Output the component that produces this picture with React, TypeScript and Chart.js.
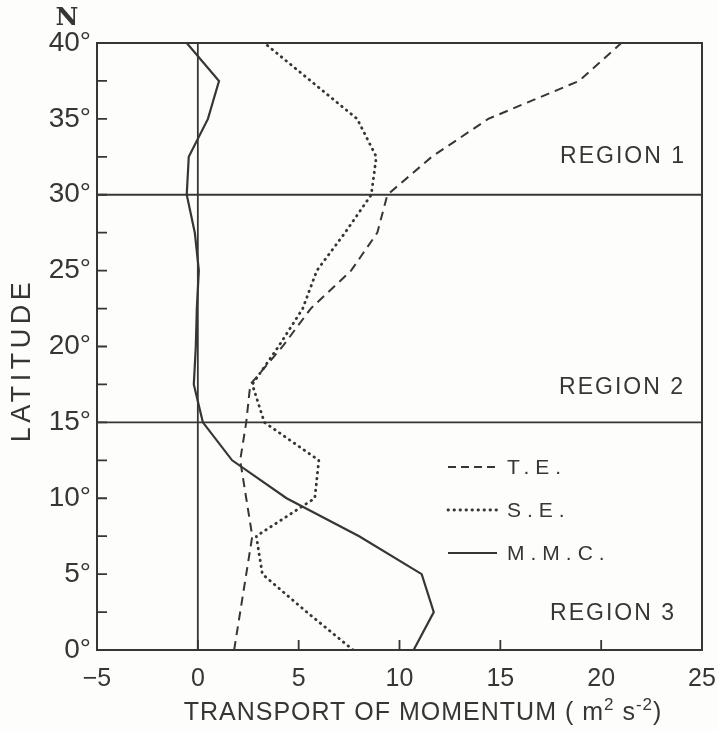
import { useEffect, useRef } from 'react';
import { Chart, registerables } from 'chart.js';

Chart.register(...registerables);

// ---- data ----
const LATITUDES = [0, 2.5, 5, 7.5, 10, 12.5, 15, 17.5, 20, 22.5, 25, 27.5, 30, 32.5, 35, 37.5, 40];
const TE = [1.8, 2.1, 2.4, 2.7, 2.4, 2.1, 2.4, 2.6, 4.2, 5.6, 7.6, 8.9, 9.4, 11.6, 14.4, 18.9, 21.0];
const SE = [7.7, 5.4, 3.2, 2.9, 5.8, 6.0, 3.3, 2.7, 4.0, 5.2, 5.9, 7.3, 8.6, 8.85, 7.9, 5.6, 3.3];
const MMC = [10.7, 11.7, 11.1, 8.0, 4.4, 1.7, 0.25, -0.2, -0.1, -0.05, 0.05, -0.15, -0.55, -0.45, 0.5, 1.05, -0.55];
const SERIES_NAMES = ['T.E.', 'S.E.', 'M.M.C.'];

const X_RANGE = [-5, 25];
const Y_RANGE = [0, 40];
const X_STEP = 5;
const Y_STEP = 2.5;
const Y_LABEL_STEP = 5;
const REGION_BOUNDARIES = [15, 30];
const REGION_LABELS = ['REGION 1', 'REGION 2', 'REGION 3'];
const REGION_LABEL_LATS = [32.5, 17.3, 2.4];
const X_TITLE = ['TRANSPORT OF MOMENTUM ( m', '2', ' s', '-2', ')'];
const Y_TITLE = 'LATITUDE';
const Y_UNIT = 'N';

const INK = '#363636';
const FONT = '"Liberation Sans", Arial, sans-serif';
const REGION_INSETS = [16, 17, 26];

const toPoints = (xs: number[]) => xs.map((x, i) => ({ x, y: LATITUDES[i] }));

const decorPlugin = {
  id: 'decor',
  beforeDraw(chart: any) {
    const { ctx } = chart;
    ctx.save();
    ctx.fillStyle = '#fdfdfb';
    ctx.fillRect(0, 0, chart.width, chart.height);
    ctx.restore();
  },
  afterDraw(chart: any) {
    const { ctx, chartArea: a, scales } = chart;
    const xs = scales.x;
    const ys = scales.y;
    ctx.save();
    ctx.strokeStyle = INK;
    ctx.fillStyle = INK;
    // frame
    ctx.lineWidth = 2;
    ctx.strokeRect(a.left, a.top, a.right - a.left, a.bottom - a.top);
    // inward ticks
    ctx.lineWidth = 1.8;
    ctx.beginPath();
    for (let v = Y_RANGE[0] + Y_STEP; v < Y_RANGE[1]; v += Y_STEP) {
      const py = ys.getPixelForValue(v);
      ctx.moveTo(a.left, py);
      ctx.lineTo(a.left + 10, py);
    }
    for (let v = X_RANGE[0] + X_STEP; v < X_RANGE[1]; v += X_STEP) {
      const px = xs.getPixelForValue(v);
      ctx.moveTo(px, a.bottom);
      ctx.lineTo(px, a.bottom - 10);
    }
    ctx.stroke();

    ctx.letterSpacing = '2px';
    // region labels
    ctx.font = `23px ${FONT}`;
    ctx.textAlign = 'right';
    ctx.textBaseline = 'middle';
    REGION_LABELS.forEach((t, i) => {
      ctx.fillText(t, a.right - REGION_INSETS[i], ys.getPixelForValue(REGION_LABEL_LATS[i]));
    });

    // legend
    const ds = chart.data.datasets;
    ctx.font = `21px ${FONT}`;
    ctx.textAlign = 'left';
    ctx.letterSpacing = '6px';
    const lx0 = a.left + 351;
    const lx1 = a.left + 400;
    SERIES_NAMES.forEach((name, i) => {
      const d = ds[i];
      const py = a.top + 424 + i * 43;
      ctx.save();
      ctx.lineWidth = d.borderWidth;
      ctx.setLineDash(i === 0 ? [8, 5] : d.borderDash || []);
      ctx.lineCap = d.borderCapStyle || 'butt';
      ctx.beginPath();
      ctx.moveTo(lx0, py);
      ctx.lineTo(lx1, py);
      ctx.stroke();
      ctx.restore();
      ctx.fillText(name, lx1 + 10, py + 1);
    });

    // x title with superscripts
    ctx.textBaseline = 'alphabetic';
    ctx.letterSpacing = '1px';
    const big = `25px ${FONT}`;
    const small = `17px ${FONT}`;
    const widths = X_TITLE.map((t, i) => {
      ctx.font = i % 2 === 1 ? small : big;
      return ctx.measureText(t).width;
    });
    const total = widths.reduce((s, w) => s + w, 0);
    let cx = 423 - total / 2;
    const base = 720;
    X_TITLE.forEach((t, i) => {
      ctx.font = i % 2 === 1 ? small : big;
      ctx.fillText(t, cx, i % 2 === 1 ? base - 10 : base);
      cx += widths[i];
    });

    // y title
    ctx.save();
    ctx.translate(23, 362);
    ctx.rotate(-Math.PI / 2);
    ctx.font = `27px ${FONT}`;
    ctx.letterSpacing = '4.5px';
    ctx.textAlign = 'center';
    ctx.textBaseline = 'middle';
    ctx.fillText(Y_TITLE, 2, 0);
    ctx.restore();

    // N unit
    ctx.letterSpacing = '0px';
    ctx.font = `bold 25px "DejaVu Serif", serif`;
    ctx.textAlign = 'center';
    ctx.textBaseline = 'middle';
    ctx.fillText(Y_UNIT, 67, 18);
    ctx.restore();
  },
};

export default function App() {
  const ref = useRef<HTMLCanvasElement | null>(null);
  useEffect(() => {
    document.body.style.margin = '0';
    if (!ref.current) return;
    const refLine = (pts: { x: number; y: number }[]) => ({
      data: pts,
      borderColor: INK,
      borderWidth: 1.8,
      pointRadius: 0,
      showLine: true,
      fill: false,
    });
    const chart = new Chart(ref.current, {
      type: 'scatter',
      data: {
        datasets: [
          {
            label: SERIES_NAMES[0],
            data: toPoints(TE),
            borderColor: INK,
            borderWidth: 2,
            borderDash: [9, 6],
            pointRadius: 0,
            showLine: true,
          },
          {
            label: SERIES_NAMES[1],
            data: toPoints(SE),
            borderColor: INK,
            borderWidth: 2.8,
            borderDash: [0.5, 5.5],
            borderCapStyle: 'round',
            pointRadius: 0,
            showLine: true,
          },
          {
            label: SERIES_NAMES[2],
            data: toPoints(MMC),
            borderColor: INK,
            borderWidth: 2.2,
            pointRadius: 0,
            showLine: true,
          },
          refLine([{ x: 0, y: Y_RANGE[0] }, { x: 0, y: Y_RANGE[1] }]),
          ...REGION_BOUNDARIES.map((b) => refLine([{ x: X_RANGE[0], y: b }, { x: X_RANGE[1], y: b }])),
        ] as any,
      },
      options: {
        animation: false,
        responsive: false,
        layout: { padding: { top: 43, right: 15, left: 0, bottom: 0 } },
        plugins: { legend: { display: false }, tooltip: { enabled: false } },
        scales: {
          x: {
            type: 'linear',
            min: X_RANGE[0],
            max: X_RANGE[1],
            ticks: {
              stepSize: X_STEP,
              color: INK,
              font: { family: FONT, size: 25 },
              padding: 14,
              maxRotation: 0,
              callback: (v: any) => (Number(v) < 0 ? `\u2212${Math.abs(Number(v))}` : `${v}`),
            },
            grid: { drawOnChartArea: false, drawTicks: false },
            border: { display: true, color: INK, width: 2 },
            afterFit: (s: any) => {
              s.height = 81;
              s.paddingLeft = 0;
              s.paddingRight = 0;
            },
          },
          y: {
            type: 'linear',
            min: Y_RANGE[0],
            max: Y_RANGE[1],
            ticks: {
              stepSize: Y_STEP,
              autoSkip: false,
              color: INK,
              font: { family: FONT, size: 28 },
              padding: 6,
              callback: (v: any) => (Number(v) % Y_LABEL_STEP === 0 ? `${v}°` : ''),
            },
            grid: { drawOnChartArea: false, drawTicks: false },
            border: { display: true, color: INK, width: 2 },
            afterFit: (s: any) => {
              s.width = 97;
              s.paddingTop = 0;
              s.paddingBottom = 0;
            },
          },
        },
      } as any,
      plugins: [decorPlugin],
    });
    return () => chart.destroy();
  }, []);
  return (
    <div style={{ width: 717, height: 731 }}>
      <canvas ref={ref} width={717} height={731} style={{ display: 'block' }} />
    </div>
  );
}
